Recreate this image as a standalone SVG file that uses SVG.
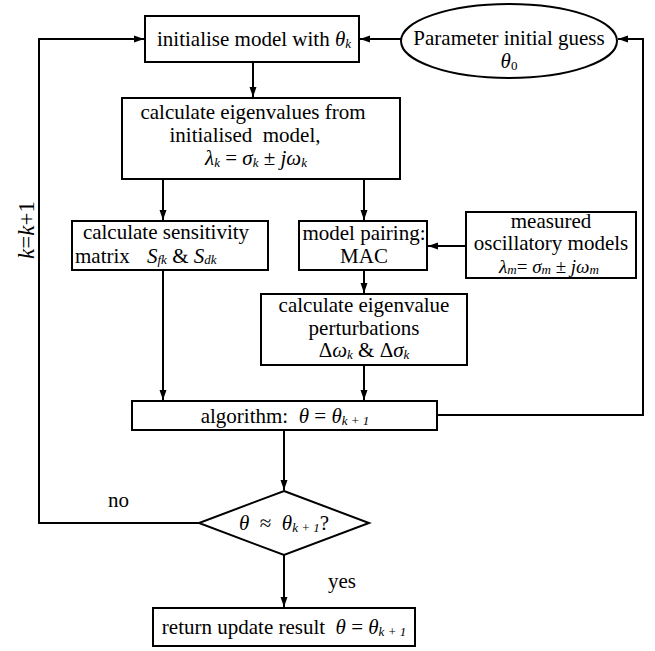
<svg xmlns="http://www.w3.org/2000/svg" width="655" height="651" viewBox="0 0 655 651">
<style>
text{font-family:"Liberation Serif","Times New Roman",serif;font-size:21px;fill:#000;white-space:pre}
.m{text-anchor:middle}
.i{font-style:italic}
.s{font-size:13px;font-style:italic}
.n{font-size:13px}
.box{fill:#fff;stroke:#000;stroke-width:2}
.ln{fill:none;stroke:#000;stroke-width:2}
</style>
<defs>
<marker id="ah" markerUnits="userSpaceOnUse" markerWidth="10" markerHeight="8" refX="10" refY="4" orient="auto">
<path d="M0,0.5 L10,4 L0,7.5 z" fill="#000"/>
</marker>
</defs>
<rect width="655" height="651" fill="#fff"/>
<g id="connectors">
<line class="ln" x1="401" y1="39" x2="360" y2="39" marker-end="url(#ah)"/>
<line class="ln" x1="253" y1="62" x2="253" y2="97" marker-end="url(#ah)"/>
<line class="ln" x1="163" y1="179" x2="163" y2="220" marker-end="url(#ah)"/>
<line class="ln" x1="364" y1="179" x2="364" y2="220" marker-end="url(#ah)"/>
<line class="ln" x1="466" y1="246" x2="428" y2="246" marker-end="url(#ah)"/>
<line class="ln" x1="364" y1="270" x2="364" y2="293" marker-end="url(#ah)"/>
<line class="ln" x1="364" y1="365" x2="364" y2="400" marker-end="url(#ah)"/>
<line class="ln" x1="163" y1="270" x2="163" y2="400" marker-end="url(#ah)"/>
<line class="ln" x1="284" y1="430" x2="284" y2="490" marker-end="url(#ah)"/>
<line class="ln" x1="284" y1="555" x2="284" y2="607" marker-end="url(#ah)"/>
<polyline class="ln" points="437,415 643,415 643,39 618,39" marker-end="url(#ah)"/>
<polyline class="ln" points="199,523 39,523 39,39 144,39" marker-end="url(#ah)"/>
</g>
<g id="n-init">
<rect class="box" x="145" y="16" width="214" height="46"/>
<text class="m" x="254" y="46" xml:space="preserve">initialise model with <tspan class="i">θ</tspan><tspan class="s" dy="2">k</tspan></text>
</g>
<g id="n-guess">
<ellipse class="box" cx="509" cy="41" rx="108" ry="37"/>
<text class="m" x="509" y="45">Parameter initial guess</text>
<text class="m" x="509" y="68"><tspan class="i">θ</tspan><tspan class="n" dy="2">0</tspan></text>
</g>
<g id="n-eig">
<rect class="box" x="122" y="98" width="278" height="81"/>
<text class="m" x="253" y="119">calculate eigenvalues from</text>
<text class="m" x="245" y="142" xml:space="preserve">initialised  model,</text>
<text class="m" x="256" y="165" xml:space="preserve"><tspan class="i">λ</tspan><tspan class="s" dy="2">k</tspan><tspan dy="-2"> = </tspan><tspan class="i">σ</tspan><tspan class="s" dy="2">k</tspan><tspan dy="-2"> ± </tspan><tspan class="i">jω</tspan><tspan class="s" dy="2">k</tspan></text>
</g>
<g id="n-sens">
<rect class="box" x="72" y="221" width="196" height="49"/>
<text class="m" x="166" y="239">calculate sensitivity</text>
<text x="75" y="263">matrix</text>
<text x="147" y="263" xml:space="preserve"><tspan class="i">S</tspan><tspan class="s" dy="1">fk</tspan><tspan dy="-1"> &amp; </tspan><tspan class="i">S</tspan><tspan class="s" dy="1">dk</tspan></text>
</g>
<g id="n-pair">
<rect class="box" x="299" y="221" width="128" height="49"/>
<text class="m" x="364" y="240">model pairing:</text>
<text class="m" x="364" y="263">MAC</text>
</g>
<g id="n-meas">
<rect class="box" x="466" y="212" width="170" height="66"/>
<text class="m" x="551" y="228">measured</text>
<text class="m" x="551" y="250">oscillatory models</text>
<text class="m" x="549" y="273" style="font-size:19px" xml:space="preserve"><tspan class="i">λ</tspan><tspan class="s" dy="1">m</tspan><tspan dy="-1">= </tspan><tspan class="i">σ</tspan><tspan class="s" dy="1">m</tspan><tspan dy="-1"> ± </tspan><tspan class="i">jω</tspan><tspan class="s" dy="1">m</tspan></text>
</g>
<g id="n-pert">
<rect class="box" x="261" y="294" width="206" height="71"/>
<text class="m" x="364" y="312">calculate eigenvalue</text>
<text class="m" x="364" y="335">perturbations</text>
<text class="m" x="364" y="357" xml:space="preserve">Δ<tspan class="i">ω</tspan><tspan class="s" dy="2">k</tspan><tspan dy="-2"> &amp; Δ</tspan><tspan class="i">σ</tspan><tspan class="s" dy="2">k</tspan></text>
</g>
<g id="n-algo">
<rect class="box" x="132" y="401" width="305" height="29"/>
<text class="m" x="285" y="423" xml:space="preserve">algorithm:  <tspan class="i">θ</tspan> = <tspan class="i">θ</tspan><tspan class="s" dy="2">k + 1</tspan></text>
</g>
<g id="n-check">
<polygon class="box" points="284,491 369,523 284,555 199,523"/>
<text class="m" x="284" y="530" xml:space="preserve"><tspan class="i">θ</tspan>  ≈  <tspan class="i">θ</tspan><tspan class="s" dy="2">k + 1</tspan><tspan dy="-2">?</tspan></text>
</g>
<g id="n-ret">
<rect class="box" x="153" y="608" width="262" height="38"/>
<text class="m" x="284" y="634" xml:space="preserve">return update result  <tspan class="i">θ</tspan> = <tspan class="i">θ</tspan><tspan class="s" dy="2">k + 1</tspan></text>
</g>
<g id="labels">
<text x="108" y="507">no</text>
<text x="328" y="588">yes</text>
<text class="m" transform="translate(34,230) rotate(-90)" style="font-size:23px"><tspan class="i">k</tspan>=<tspan class="i">k</tspan>+1</text>
</g>
</svg>
